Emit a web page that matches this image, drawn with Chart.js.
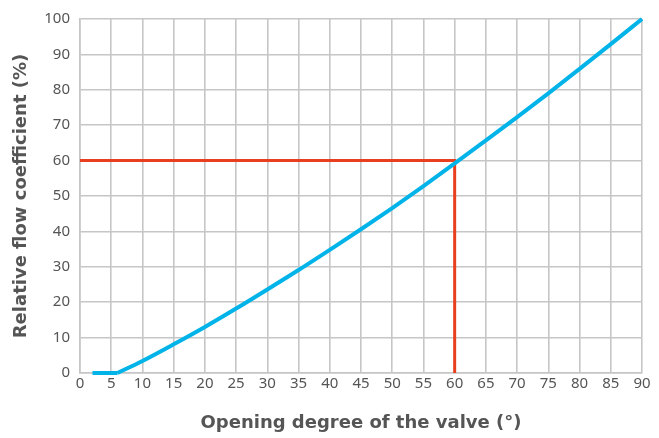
<!DOCTYPE html>
<html>
<head>
<meta charset="utf-8">
<script src="https://cdn.jsdelivr.net/npm/chart.js@4"></script>
<style>
  html, body { margin: 0; padding: 0; background: #fff; }
  #wrap { width: 659px; height: 438px; position: relative; }
</style>
</head>
<body>
<div id="wrap"><canvas id="chart"></canvas></div>
<script>
// flat start of the characteristic, then the rising curve
const flatDeg = [2, 6];
const flatCoef = [0, 0];
const openingDeg = [6, 10, 15, 20, 25, 30, 35, 40, 45, 50, 55, 60, 65, 70, 75, 80, 85, 90];
const flowCoef = [0, 3.4, 8.1, 13, 18.2, 23.6, 29.1, 34.8, 40.6, 46.6, 52.8, 59.2, 65.7, 72.3, 79, 85.9, 92.9, 100];
const markerX = [0, 60, 60];
const markerY = [60, 60, 0];

const FONT = '"Noto Sans", "DejaVu Sans", sans-serif';
const TITLE_FONT = '"DejaVu Sans", sans-serif';
const GRID = '#c6c6c6';
const BLUE = '#00b3e8';

const toPoints = (xs, ys) => xs.map((x, i) => ({ x, y: ys[i] }));

new Chart(document.getElementById('chart'), {
  type: 'line',
  data: {
    datasets: [
      {
        label: 'Kv',
        data: toPoints(openingDeg, flowCoef),
        borderColor: BLUE,
        borderWidth: 4,
        pointRadius: 0,
        cubicInterpolationMode: 'monotone',
        clip: false
      },
      {
        label: 'Kv flat',
        data: toPoints(flatDeg, flatCoef),
        borderColor: BLUE,
        borderWidth: 4,
        borderCapStyle: 'butt',
        pointRadius: 0,
        tension: 0,
        clip: false
      },
      {
        label: 'marker',
        data: toPoints(markerX, markerY),
        borderColor: '#e8401f',
        borderWidth: 3,
        pointRadius: 0,
        tension: 0,
        clip: false
      }
    ]
  },
  options: {
    responsive: true,
    maintainAspectRatio: false,
    animation: false,
    layout: { padding: { top: 14, right: 17, left: 0, bottom: 0 } },
    plugins: { legend: { display: false }, tooltip: { enabled: false } },
    scales: {
      x: {
        type: 'linear',
        min: 0,
        max: 90,
        ticks: { stepSize: 5, color: '#555', font: { family: FONT, size: 15 }, padding: 2 },
        grid: { color: GRID, lineWidth: 1.6, drawTicks: false },
        border: { color: GRID, width: 1.6 },
        title: { display: true, text: 'Opening degree of the valve (°)', color: '#555', font: { family: TITLE_FONT, size: 18, weight: 'bold' }, padding: { top: 13 } },
        afterFit(scale) { scale.height = 65; }
      },
      y: {
        min: 0,
        max: 100,
        ticks: { stepSize: 10, color: '#555', font: { family: FONT, size: 15 }, padding: 10 },
        grid: { color: GRID, lineWidth: 1.6, drawTicks: false },
        border: { color: GRID, width: 1.6 },
        title: { display: true, text: 'Relative flow coefficient (%)', color: '#555', font: { family: TITLE_FONT, size: 18, weight: 'bold' }, padding: { top: 11, bottom: 2 } },
        afterFit(scale) { scale.width = 80; }
      }
    }
  }
});
</script>
</body>
</html>
